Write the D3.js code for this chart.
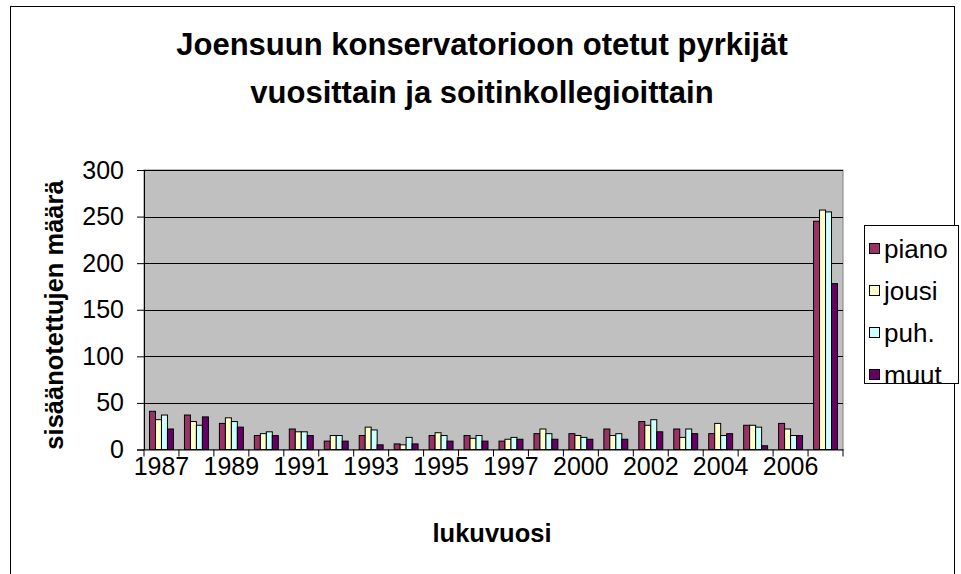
<!DOCTYPE html>
<html><head><meta charset="utf-8">
<script src="https://cdn.jsdelivr.net/npm/d3@7"></script>
<style>body{margin:0;background:#fff}svg{display:block;font-family:"Liberation Sans",Arial,sans-serif}</style>
</head><body>
<script>
const categories = ["1987","1988","1989","1990","1991","1992","1993","1994","1995","1996","1997","1998","2000","2001","2002","2003","2004","2005","2006","2007"];
const tickLabels = ["1987","1989","1991","1993","1995","1997","2000","2002","2004","2006"];
const seriesNames = ["piano","jousi","puh.","muut"];
const piano = [41,37,28,15,22,9,15,6,15,15,9,17,17,22,30,22,17,26,28,245];
const jousi = [32,30,34,17,19,15,24,5,18,12,11,22,15,15,26,13,28,26,22,257];
const puh   = [37,26,30,19,19,15,21,13,15,15,13,17,13,17,32,22,15,24,15,255];
const muut  = [22,35,24,15,15,9,5,6,9,9,11,11,11,11,19,17,17,4,15,178];
const yTicks = [0,50,100,150,200,250,300];
const colors = ["#993366","#FFFFCC","#CCFFFF","#660066"];

const seriesValues = [piano, jousi, puh, muut];
const W = 961, H = 574;
const svg = d3.select("body").append("svg").attr("width", W).attr("height", H);

svg.append("rect").attr("x",10.5).attr("y",6.5).attr("width",944).attr("height",600)
  .attr("fill","#fff").attr("stroke","#000").attr("stroke-width",1);

const L = 144, R = 843, T = 170, B = 449.5;
const x0 = d3.scaleBand().domain(categories).range([L, R]).paddingInner(0).paddingOuter(0);
const x1 = d3.scaleBand().domain(seriesNames).range([0, x0.bandwidth()]).paddingInner(0).paddingOuter(0.92);
const y = d3.scaleLinear().domain([0, 300]).range([B, T]);

svg.append("rect").attr("x",L).attr("y",T).attr("width",R-L).attr("height",B-T)
  .attr("fill","#C0C0C0").attr("stroke","#808080").attr("stroke-width",1);

svg.append("g").selectAll("line").data(yTicks.filter(d=>d>0)).join("line")
  .attr("x1",L).attr("x2",R).attr("y1",d=>Math.round(y(d))+0.5).attr("y2",d=>Math.round(y(d))+0.5)
  .attr("stroke","#000").attr("stroke-width",1);

const g = svg.append("g");
categories.forEach((c,i)=>{
  seriesValues.forEach((vals,s)=>{
    g.append("rect")
      .attr("x", x0(c)+x1(seriesNames[s]))
      .attr("y", y(vals[i]))
      .attr("width", x1.bandwidth())
      .attr("height", B - y(vals[i]))
      .attr("fill", colors[s]).attr("stroke","#000").attr("stroke-width",1);
  });
});

const yAxis = d3.axisLeft(y).tickValues(yTicks).tickSize(7).tickPadding(13).tickFormat(d3.format("d"));
const ya = svg.append("g").attr("transform",`translate(${L},0)`).call(yAxis);
ya.select(".domain").attr("stroke","#000");
ya.selectAll("text").attr("font-size",25).attr("fill","#000").attr("font-family","Liberation Sans, Arial, sans-serif");

const xAxis = d3.axisBottom(x0).tickSize(0).tickFormat(d=>tickLabels.includes(d)?d:"");
const xa = svg.append("g").attr("transform",`translate(0,${B})`).call(xAxis);
xa.select(".domain").attr("stroke","#000");
xa.selectAll("text").attr("font-size",25).attr("fill","#000").attr("y",25).attr("dy",0)
  .attr("font-family","Liberation Sans, Arial, sans-serif");
xa.append("g").selectAll("line").data(categories.concat(["__end"])).join("line")
  .attr("x1",(d,i)=>i<categories.length?x0(d):R).attr("x2",(d,i)=>i<categories.length?x0(d):R)
  .attr("y1",0).attr("y2",7).attr("stroke","#000");

svg.append("text").attr("x",482).attr("y",55).attr("text-anchor","middle")
  .attr("font-size",31).attr("font-weight","bold").text("Joensuun konservatorioon otetut pyrkijät");
svg.append("text").attr("x",482).attr("y",103).attr("text-anchor","middle")
  .attr("font-size",31).attr("font-weight","bold").text("vuosittain ja soitinkollegioittain");
svg.append("text").attr("x",492).attr("y",542).attr("text-anchor","middle")
  .attr("font-size",25.5).attr("font-weight","bold").text("lukuvuosi");
svg.append("text").attr("transform","translate(63,315) rotate(-90)").attr("text-anchor","middle")
  .attr("font-size",25.5).attr("font-weight","bold").text("sisäänotettujen määrä");

const lg = svg.append("g");
lg.append("rect").attr("x",864.5).attr("y",225.5).attr("width",94).attr("height",158)
  .attr("fill","#fff").attr("stroke","#000");
seriesNames.forEach((n,i)=>{
  const cy = 249 + i*42;
  lg.append("rect").attr("x",869.5).attr("y",cy-5.5).attr("width",10).attr("height",10)
    .attr("fill",colors[i]).attr("stroke","#000");
  lg.append("text").attr("x",884).attr("y",cy).attr("dy","0.35em")
    .attr("font-size",26).text(n);
});
</script>
</body></html>
